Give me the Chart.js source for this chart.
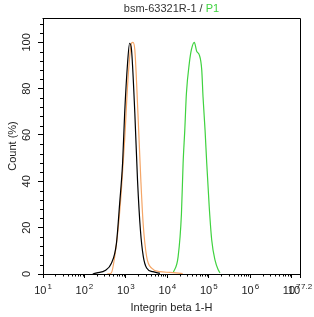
<!DOCTYPE html>
<html>
<head>
<meta charset="utf-8">
<script src="https://cdn.jsdelivr.net/npm/chart.js@4.4.1/dist/chart.umd.min.js"></script>
<style>
  html, body { margin: 0; padding: 0; background: #fff; }
  #wrap { width: 314px; height: 317px; position: relative; }
</style>
</head>
<body>
<div id="wrap"><canvas id="histChart"></canvas></div>
<script>
// x values are log10 of the channel intensity, y is Count (%)
const controlX = [2.2, 2.3, 2.5, 2.65, 2.77, 2.85, 2.92, 2.97, 3.04, 3.09, 3.135, 3.215, 3.28, 3.35, 3.42, 3.5, 3.65, 3.82];
const controlY = [0, 0.5, 1.5, 4.6, 13, 30.6, 47.8, 69.4, 91, 99.6, 96.8, 69.5, 40.6, 19, 7.5, 2.6, 1, 0.3];

const isotypeX = [2.55, 2.65, 2.73, 2.81, 2.89, 2.97, 3.05, 3.135, 3.17, 3.215, 3.29, 3.36, 3.415, 3.5, 3.62, 3.82, 4.06, 4.37];
const isotypeY = [0, 0.5, 7.5, 19, 36, 58, 84, 99.6, 100, 96.8, 69.5, 40.6, 22, 7.5, 2.5, 1.0, 0.7, 0.2];

const sampleX = [4.14, 4.26, 4.34, 4.38, 4.42, 4.46, 4.53, 4.58, 4.65, 4.71, 4.77, 4.83, 4.86, 4.91, 4.95, 5.01, 5.07, 5.15, 5.23, 5.27];
const sampleY = [0.5, 7.5, 26, 47.8, 62, 78, 91, 96.8, 100, 96, 94.6, 88, 76.6, 62, 47.8, 29, 14.7, 6, 1.7, 0.5];

const xTickExps = [1, 2, 3, 4, 5, 6, 7, 7.2];
const xTickLabels = ['1', '2', '3', '4', '5', '6', '7', '7.2'];
const yTickValues = [0, 20, 40, 60, 80, 100];

const titleMain = 'bsm-63321R-1 / ';
const titleSample = 'P1';
const xTitle = 'Integrin beta 1-H';
const yTitle = 'Count (%)';

const GREEN = '#3fd23f';
const ORANGE = '#f4a566';
const FONT = '"Liberation Sans", Arial, sans-serif';

function toPoints(xs, ys) {
    return xs.map((x, i) => ({ x: x, y: ys[i] }));
}

// Title with the sample name in green, minor ticks, superscript labels and the box
const flowDecor = {
    id: 'flowDecor',
    afterDraw(chart) {
        const ctx = chart.ctx;
        const area = chart.chartArea;
        const xs = chart.scales.x;
        const ys = chart.scales.y;
        ctx.save();

        // box top and right
        ctx.strokeStyle = '#000';
        ctx.lineWidth = 1;
        ctx.beginPath();
        ctx.moveTo(Math.round(area.left) - 0.5, Math.round(area.top) + 0.5);
        ctx.lineTo(Math.round(area.right) + 0.5, Math.round(area.top) + 0.5);
        ctx.lineTo(Math.round(area.right) + 0.5, Math.round(area.bottom) + 4);
        ctx.stroke();

        // minor ticks on y
        ctx.beginPath();
        for (let v = 4; v <= 110; v += 4) {
            if (v % 20 === 0) continue;
            const py = Math.round(ys.getPixelForValue(v)) + 0.5;
            ctx.moveTo(area.left - 3, py);
            ctx.lineTo(area.left, py);
        }
        // minor ticks on x
        for (let n = 1; n < 8; n++) {
            for (let k = 2; k <= 9; k++) {
                const e = n + Math.log10(k);
                if (e > 7.2) continue;
                const px = Math.round(xs.getPixelForValue(e)) + 0.5;
                ctx.moveTo(px, area.bottom);
                ctx.lineTo(px, area.bottom + 2.5);
            }
        }
        ctx.stroke();

        // x tick labels 10^n
        ctx.fillStyle = '#222';
        ctx.textBaseline = 'alphabetic';
        xTickExps.forEach((e, i) => {
            const px = xs.getPixelForValue(e);
            ctx.font = '11px ' + FONT;
            const wBase = ctx.measureText('10').width;
            ctx.font = '8px ' + FONT;
            const wExp = ctx.measureText(xTickLabels[i]).width;
            const start = px - (wBase + 1 + wExp) / 2;
            ctx.font = '11px ' + FONT;
            ctx.textAlign = 'left';
            ctx.fillText('10', start, 294);
            ctx.font = '8px ' + FONT;
            ctx.fillText(xTickLabels[i], start + wBase + 1, 289);
        });

        // title
        ctx.font = '11px ' + FONT;
        const w1 = ctx.measureText(titleMain).width;
        const w2 = ctx.measureText(titleSample).width;
        const cx = (area.left + area.right) / 2;
        const tx = cx - (w1 + w2) / 2;
        ctx.textAlign = 'left';
        ctx.textBaseline = 'middle';
        ctx.fillStyle = '#333';
        ctx.fillText(titleMain, tx, 9);
        ctx.fillStyle = GREEN;
        ctx.fillText(titleSample, tx + w1, 9);
        ctx.restore();
    }
};

const histChart = new Chart(document.getElementById('histChart'), {
    type: 'line',
    data: {
        datasets: [
            {
                label: 'Control',
                data: toPoints(controlX, controlY),
                borderColor: '#000',
                borderWidth: 1.2,
                pointRadius: 0,
                cubicInterpolationMode: 'monotone',
                fill: false
            },
            {
                label: 'Isotype',
                data: toPoints(isotypeX, isotypeY),
                borderColor: ORANGE,
                borderWidth: 1.2,
                pointRadius: 0,
                cubicInterpolationMode: 'monotone',
                fill: false
            },
            {
                label: titleSample,
                data: toPoints(sampleX, sampleY),
                borderColor: GREEN,
                borderWidth: 1.2,
                pointRadius: 0,
                cubicInterpolationMode: 'monotone',
                fill: false
            }
        ]
    },
    options: {
        responsive: true,
        maintainAspectRatio: false,
        animation: false,
        layout: { padding: { left: 0, top: 18, right: 14, bottom: 0 } },
        plugins: {
            legend: { display: false },
            tooltip: { enabled: false }
        },
        scales: {
            x: {
                type: 'linear',
                min: 1,
                max: 7.2,
                afterBuildTicks: (s) => { s.ticks = xTickExps.map(v => ({ value: v })); },
                afterFit: (s) => { s.height = 43; },
                grid: { drawOnChartArea: false, tickLength: 4, color: '#000' },
                border: { color: '#000', width: 1 },
                ticks: { callback: () => '', padding: 0 },
                title: {
                    display: true,
                    text: xTitle,
                    color: '#222',
                    font: { family: FONT, size: 11 },
                    padding: { top: 0, bottom: 2 }
                }
            },
            y: {
                min: 0,
                max: 110.5,
                afterBuildTicks: (s) => { s.ticks = yTickValues.map(v => ({ value: v })); },
                afterFit: (s) => { s.width = 43; },
                grid: { drawOnChartArea: false, tickLength: 5, color: '#000' },
                border: { color: '#000', width: 1 },
                ticks: {
                    color: '#222',
                    font: { family: FONT, size: 11 },
                    minRotation: 90,
                    maxRotation: 90,
                    crossAlign: 'center',
                    padding: 2,
                    callback: (v) => String(v)
                },
                title: {
                    display: true,
                    text: yTitle,
                    color: '#222',
                    font: { family: FONT, size: 11 },
                    padding: { top: 6, bottom: 0 }
                }
            }
        }
    },
    plugins: [flowDecor]
});
</script>
</body>
</html>
